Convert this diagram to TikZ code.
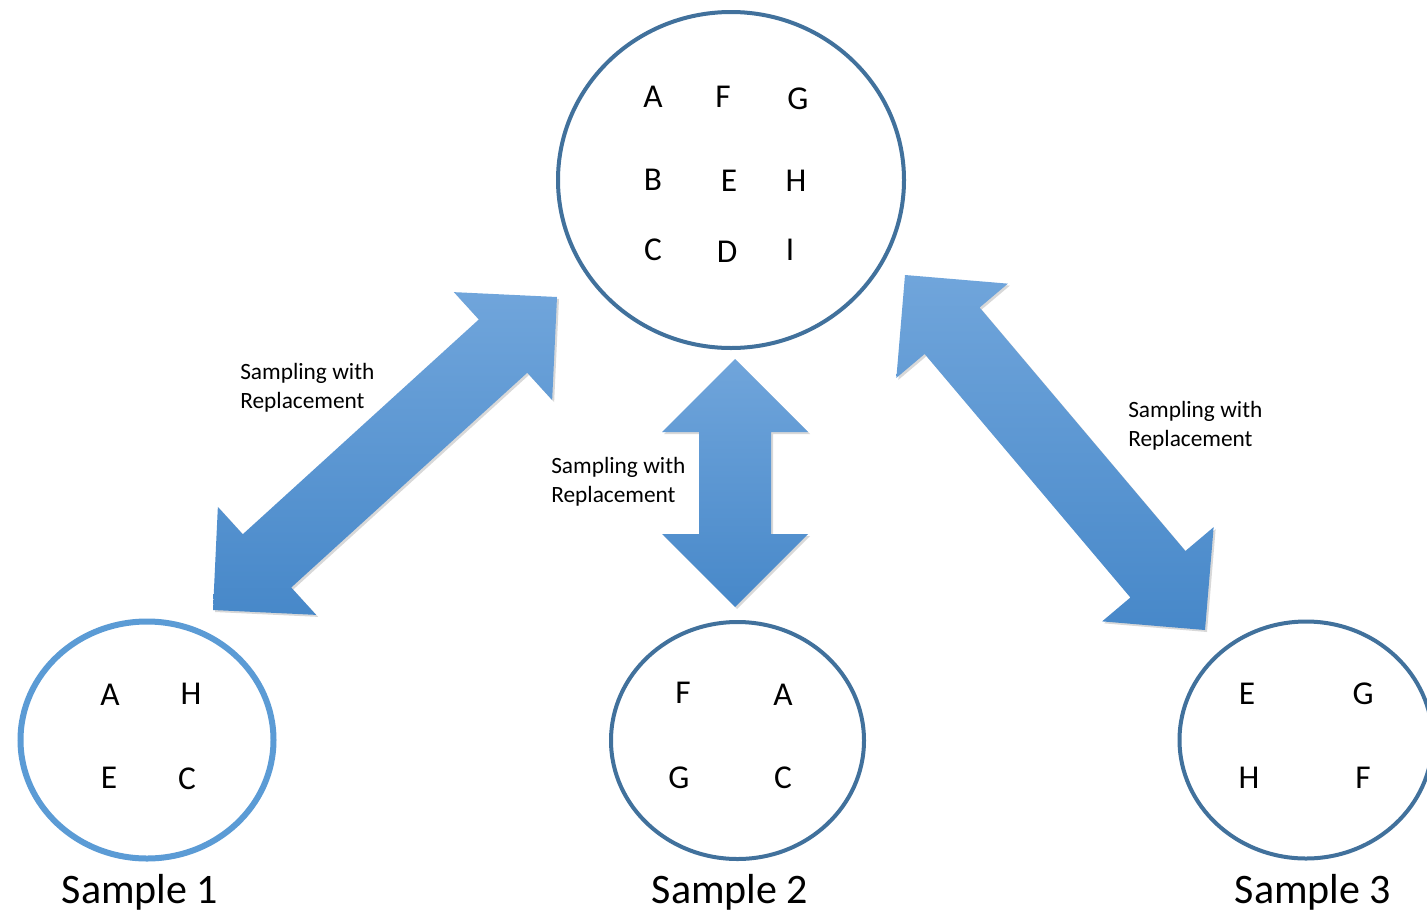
\documentclass[tikz,border=0pt]{standalone}
\usepackage{fontspec}
\setmainfont{Carlito}
\usepackage{xcolor}
\usepackage{tikz}
\usetikzlibrary{calc,shapes.geometric,shadows}
\definecolor{rim}{HTML}{41719C}
\definecolor{rimlight}{HTML}{5B9BD5}
\definecolor{arrowtop}{HTML}{70A5DB}
\definecolor{arrowbot}{HTML}{4788C9}

% double block arrow from tip #1 to tip #2
\newcommand{\dblarrow}[2]{%
  \path[blockarrow] (#1)
    -- ($(#1)!54.75pt!(#2)!54.75pt!90:(#2)$)
    -- ($(#1)!54.75pt!(#2)!27pt!90:(#2)$)
    -- ($(#2)!54.75pt!(#1)!27pt!-90:(#1)$)
    -- ($(#2)!54.75pt!(#1)!54.75pt!-90:(#1)$)
    -- (#2)
    -- ($(#2)!54.75pt!(#1)!54.75pt!90:(#1)$)
    -- ($(#2)!54.75pt!(#1)!27pt!90:(#1)$)
    -- ($(#1)!54.75pt!(#2)!27pt!-90:(#2)$)
    -- ($(#1)!54.75pt!(#2)!54.75pt!-90:(#2)$)
    -- cycle;}

\begin{document}
\begin{tikzpicture}[x=0.75pt, y=-0.75pt,
  pool/.style={ellipse, draw=rim, line width=3pt, minimum width=259.5pt, minimum height=252pt},
  draw sample/.style={ellipse, draw=rim, line width=3pt, minimum width=189.75pt, minimum height=177.75pt},
  letter/.style={inner sep=0pt, font=\fontsize{25}{30}\selectfont},
  note/.style={inner sep=0pt, align=left, font=\fontsize{17.5}{21.75}\selectfont},
  caption/.style={inner sep=0pt, font=\fontsize{31.5}{36}\selectfont},
  blockarrow/.style={top color=arrowtop, bottom color=arrowbot,
    drop shadow={opacity=0.3, shadow xshift=1.5pt, shadow yshift=-1.5pt}}]
  \useasboundingbox (0,0) rectangle (1427,914);
  \fill[white] (0,0) rectangle (1427,914);
  \clip (0,0) rectangle (1427,914);

  % population
  \node[pool] (pop) at (731,180) {};
  \foreach \nm/\x/\y in {A/653/97, F/723/97, G/798/99,
                         B/653/180, E/729/181, H/796/181,
                         C/653/250, D/727/252, I/790/250}
    \node[letter] (pop-\nm) at (\x,\y) {\nm};

  % samples
  \node[draw sample, draw=rimlight, line width=4.5pt] (s1) at (147,740) {};
  \node[draw sample] (s2) at (737.5,740.5) {};
  \node[draw sample] (s3) at (1306,740) {};
  \foreach \nm/\x/\y in {A/110/695, H/191/694, E/109/778, C/187/779}
    \node[letter] (s1-\nm) at (\x,\y) {\nm};
  \foreach \nm/\x/\y in {F/683/693, A/783/695, G/679/778, C/783/778}
    \node[letter] (s2-\nm) at (\x,\y) {\nm};
  \foreach \nm/\x/\y in {E/1247/694, G/1363/694, H/1249/778, F/1363/778}
    \node[letter] (s3-\nm) at (\x,\y) {\nm};

  \node[caption, anchor=base] (cap1) at (140,903) {Sample 1};
  \node[caption, anchor=base] (cap2) at (730,903) {Sample 2};
  \node[caption, anchor=base] (cap3) at (1313,903) {Sample 3};

  % arrows
  \coordinate (l-top) at (557,297);
  \coordinate (l-bot) at (213,610);
  \coordinate (m-top) at (735,359);
  \coordinate (m-bot) at (735,607);
  \coordinate (r-top) at (905,275);
  \coordinate (r-bot) at (1205,630);
  \dblarrow{l-top}{l-bot}
  \dblarrow{m-top}{m-bot}
  \dblarrow{r-top}{r-bot}

  \node[note, anchor=west] (note-l) at (240,388) {Sampling with\\Replacement};
  \node[note, anchor=west] (note-m) at (551,482) {Sampling with\\Replacement};
  \node[note, anchor=west] (note-r) at (1128,426) {Sampling with\\Replacement};
\end{tikzpicture}
\end{document}
